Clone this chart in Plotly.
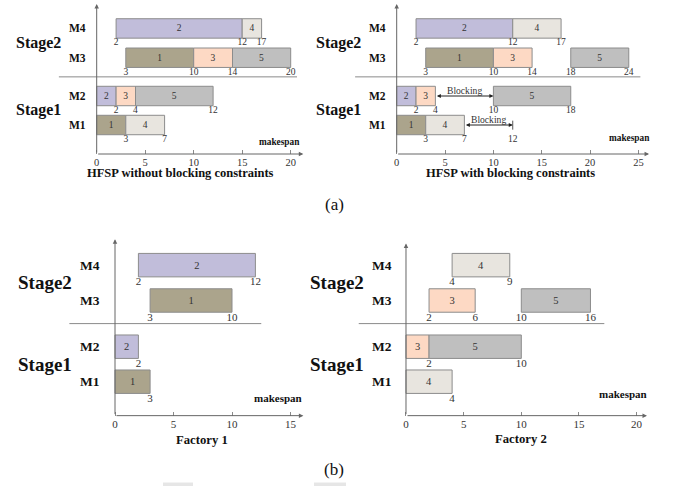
import plotly.graph_objects as go

W, H = 673, 486
FONT = "Liberation Serif, Times New Roman, Times, serif"

# ---------------- data ----------------
job_colors = {1: "#aba48c", 2: "#c1bdda", 3: "#fdd9c4", 4: "#e8e5df", 5: "#bfbfbf"}
row_pos = {"M1": 0.0, "M2": 1.0, "M3": 2.32, "M4": 3.33}
stage_names = ["Stage2", "Stage1"]
machine_names = ["M4", "M3", "M2", "M1"]

# Panel 1: HFSP without blocking constraints
p1_machine = ["M4", "M4", "M3", "M3", "M3", "M2", "M2", "M2", "M1", "M1"]
p1_job = [2, 4, 1, 3, 5, 2, 3, 5, 1, 4]
p1_start = [2, 15, 3, 10, 14, 0, 2, 4, 0, 3]
p1_end = [15, 17, 10, 14, 20, 2, 4, 12, 3, 7]
p1_lab_machine = ["M4", "M4", "M4", "M3", "M3", "M3", "M3", "M2", "M2", "M2", "M1", "M1"]
p1_lab_x = [2, 15, 17, 3, 10, 14, 20, 2, 4, 12, 3, 7]
p1_lab_text = ["2", "12", "17", "3", "10", "14", "20", "2", "4", "12", "3", "7"]
p1_ticks = [0, 5, 10, 15, 20]
p1_title = "HFSP without blocking constraints"

# Panel 2: HFSP with blocking constraints
p2_machine = ["M4", "M4", "M3", "M3", "M3", "M2", "M2", "M2", "M1", "M1"]
p2_job = [2, 4, 1, 3, 5, 2, 3, 5, 1, 4]
p2_start = [2, 12, 3, 10, 18, 0, 2, 10, 0, 3]
p2_end = [12, 17, 10, 14, 24, 2, 4, 18, 3, 7]
p2_lab_machine = ["M4", "M4", "M4", "M3", "M3", "M3", "M3", "M3", "M2", "M2", "M2", "M2", "M1", "M1", "M1"]
p2_lab_x = [2, 12, 17, 3, 10, 14, 18, 24, 2, 4, 10, 18, 3, 7, 12]
p2_lab_text = ["2", "12", "17", "3", "10", "14", "18", "24", "2", "4", "10", "18", "3", "7", "12"]
p2_block_machine = ["M2", "M1"]
p2_block_from = [4, 7]
p2_block_to = [10, 12]
p2_ticks = [0, 5, 10, 15, 20, 25]
p2_title = "HFSP with blocking constraints"

# Panel 3: Factory 1
p3_machine = ["M4", "M3", "M2", "M1"]
p3_job = [2, 1, 2, 1]
p3_start = [2, 3, 0, 0]
p3_end = [12, 10, 2, 3]
p3_lab_machine = ["M4", "M4", "M3", "M3", "M2", "M1"]
p3_lab_x = [2, 12, 3, 10, 2, 3]
p3_lab_text = ["2", "12", "3", "10", "2", "3"]
p3_ticks = [0, 5, 10, 15]
p3_title = "Factory 1"

# Panel 4: Factory 2
p4_machine = ["M4", "M3", "M3", "M2", "M2", "M1"]
p4_job = [4, 3, 5, 3, 5, 4]
p4_start = [4, 2, 10, 0, 2, 0]
p4_end = [9, 6, 16, 2, 10, 4]
p4_lab_machine = ["M4", "M4", "M3", "M3", "M3", "M3", "M2", "M2", "M1"]
p4_lab_x = [4, 9, 2, 6, 10, 16, 2, 10, 4]
p4_lab_text = ["4", "9", "2", "6", "10", "16", "2", "10", "4"]
p4_ticks = [0, 5, 10, 15, 20]
p4_title = "Factory 2"

# ---------------- layout constants ----------------
def pxx(x):
    return x / W

def pxy(y):
    return 1 - y / H

panels = [
    dict(machine=p1_machine, job=p1_job, start=p1_start, end=p1_end,
         lm=p1_lab_machine, lx=p1_lab_x, lt=p1_lab_text, ticks=p1_ticks, title=p1_title,
         x0=96.7, u=9.7, xr=[-9.9, 22.5], m1=125.0, uy=29.0, yb=-1.0,
         arrow_x=21.3, arrow_y=4.17, sep=[-3.9, 20.65], mk=(18.8, -0.6),
         title_px=(180, 173), fs=dict(stage=16, m=11.5, lab=9.5, inside=9.5, tick=10.5, title=12.5, mk=9.3)),
    dict(machine=p2_machine, job=p2_job, start=p2_start, end=p2_end,
         lm=p2_lab_machine, lx=p2_lab_x, lt=p2_lab_text, ticks=p2_ticks, title=p2_title,
         x0=396.7, u=9.67, xr=[-8.0, 27.5], m1=125.0, uy=29.0, yb=-1.0,
         arrow_x=26.1, arrow_y=4.17, sep=[-4.3, 25.2], mk=(24.1, -0.45),
         title_px=(510, 173), fs=dict(stage=16, m=11.5, lab=9.5, inside=9.5, tick=10.5, title=12.5, mk=9.3)),
    dict(machine=p3_machine, job=p3_job, start=p3_start, end=p3_end,
         lm=p3_lab_machine, lx=p3_lab_x, lt=p3_lab_text, ticks=p3_ticks, title=p3_title,
         x0=115.0, u=11.7, xr=[-9.5, 16.5], m1=381.7, uy=35.0, yb=-0.97,
         arrow_x=16.1, arrow_y=4.07, sep=[-3.9, 12.5], mk=(13.95, -0.47),
         title_px=(201.7, 440), fs=dict(stage=19, m=13.5, lab=11, inside=10.5, tick=11, title=12.7, mk=11)),
    dict(machine=p4_machine, job=p4_job, start=p4_start, end=p4_end,
         lm=p4_lab_machine, lx=p4_lab_x, lt=p4_lab_text, ticks=p4_ticks, title=p4_title,
         x0=406.0, u=11.53, xr=[-8.4, 22.0], m1=381.7, uy=35.0, yb=-0.97,
         arrow_x=20.9, arrow_y=3.95, sep=[-4.1, 17.2], mk=(18.8, -0.36),
         title_px=(520.8, 439), fs=dict(stage=19, m=13.5, lab=11, inside=10.5, tick=11, title=12.7, mk=11)),
]

Y_TOP = 4.2
BAR_W = 0.67
SEP_Y = 1.66
AX_COLOR = "#8a8a8a"
EDGE = "#8c8c8c"

fig = go.Figure()
annotations = []
shapes = []
layout_axes = {}

for i, p in enumerate(panels, start=1):
    xa = "x" if i == 1 else f"x{i}"
    ya = "y" if i == 1 else f"y{i}"
    xkey = "xaxis" if i == 1 else f"xaxis{i}"
    ykey = "yaxis" if i == 1 else f"yaxis{i}"
    fs = p["fs"]

    # bars
    fig.add_trace(go.Bar(
        orientation="h",
        y=[row_pos[m] for m in p["machine"]],
        x=[e - s for s, e in zip(p["start"], p["end"])],
        base=p["start"],
        width=BAR_W,
        marker=dict(color=[job_colors[j] for j in p["job"]], line=dict(color=EDGE, width=1)),
        text=[str(j) for j in p["job"]],
        textposition="inside",
        insidetextanchor="middle",
        textangle=0,
        insidetextfont=dict(family=FONT, size=fs["inside"], color="#333333"),
        hoverinfo="skip",
        showlegend=False,
        xaxis=xa, yaxis=ya,
    ))
    # boundary labels
    fig.add_trace(go.Scatter(
        x=p["lx"], y=[row_pos[m] - 0.5 for m in p["lm"]],
        text=p["lt"], mode="text",
        textfont=dict(family=FONT, size=fs["lab"], color="#333333"),
        textposition="middle center",
        cliponaxis=False, hoverinfo="skip", showlegend=False,
        xaxis=xa, yaxis=ya,
    ))

    # axes domains
    xd = [pxx(p["x0"] + p["xr"][0] * p["u"]), pxx(p["x0"] + p["xr"][1] * p["u"])]
    ypx_bottom = p["m1"] - p["yb"] * p["uy"]
    ypx_top = p["m1"] - Y_TOP * p["uy"]
    yd = [pxy(ypx_bottom), pxy(ypx_top)]
    layout_axes[xkey] = dict(
        domain=xd, range=p["xr"], anchor=ya,
        tickvals=p["ticks"], ticktext=[str(t) for t in p["ticks"]],
        ticks="inside", ticklen=4, tickcolor=AX_COLOR, tickwidth=1,
        showline=False, showgrid=False, zeroline=False,
        tickfont=dict(family=FONT, size=fs["tick"], color="#333333"),
    )
    layout_axes[ykey] = dict(domain=yd, range=[p["yb"], Y_TOP], anchor=xa, visible=False)

    # axis arrows
    annotations.append(dict(x=p["arrow_x"], y=p["yb"], ax=0, ay=p["yb"], xref=xa, yref=ya,
                            axref=xa, ayref=ya, text="", showarrow=True, arrowhead=2,
                            arrowsize=0.9, arrowwidth=1, arrowcolor="#666666", standoff=0))
    annotations.append(dict(x=0, y=p["arrow_y"], ax=0, ay=p["yb"], xref=xa, yref=ya,
                            axref=xa, ayref=ya, text="", showarrow=True, arrowhead=2,
                            arrowsize=0.9, arrowwidth=1, arrowcolor="#666666", standoff=0))
    # stage separator
    shapes.append(dict(type="line", xref=xa, yref=ya, x0=p["sep"][0], x1=p["sep"][1],
                       y0=SEP_Y, y1=SEP_Y, line=dict(color=AX_COLOR, width=1)))
    # stage / machine labels
    mx = -2.0 if i <= 2 else -2.1
    for m in machine_names:
        annotations.append(dict(x=mx, y=row_pos[m], xref=xa, yref=ya, text=f"<b>{m}</b>",
                                xanchor="center", yanchor="middle",
                                showarrow=False, font=dict(family=FONT, size=fs["m"], color="#111111")))
    stage_y = [(row_pos["M4"] + row_pos["M3"]) / 2, (row_pos["M2"] + row_pos["M1"]) / 2]
    for s, sy in zip(stage_names, stage_y):
        annotations.append(dict(x=-6.0, y=sy, xref=xa, yref=ya, text=f"<b>{s}</b>",
                                xanchor="center", yanchor="middle",
                                showarrow=False, font=dict(family=FONT, size=fs["stage"], color="#111111")))
    # makespan
    annotations.append(dict(x=p["mk"][0], y=p["mk"][1], xref=xa, yref=ya, text="<b>makespan</b>",
                            xanchor="center", yanchor="middle",
                            showarrow=False, font=dict(family=FONT, size=fs["mk"], color="#111111")))
    # title
    annotations.append(dict(x=pxx(p["title_px"][0]), y=pxy(p["title_px"][1]), xref="paper", yref="paper",
                            xanchor="center", yanchor="middle",
                            text=f"<b>{p['title']}</b>", showarrow=False,
                            font=dict(family=FONT, size=fs["title"], color="#111111")))

# blocking arrows in panel 2
for m, a, b in zip(p2_block_machine, p2_block_from, p2_block_to):
    yv = row_pos[m]
    annotations.append(dict(x=b, y=yv, ax=a, ay=yv, xref="x2", yref="y2", axref="x2", ayref="y2",
                            text="", showarrow=True, arrowhead=2, startarrowhead=2, arrowside="end+start",
                            arrowsize=0.8, startarrowsize=0.8, arrowwidth=1, arrowcolor="#222222",
                            standoff=0, startstandoff=0))
    annotations.append(dict(x=(a + b) / 2 + (0.0 if m == "M2" else -0.05), y=yv + 0.19, xref="x2", yref="y2",
                            xanchor="center", yanchor="middle",
                            text="Blocking", showarrow=False,
                            font=dict(family=FONT, size=9.6, color="#333333")))
shapes.append(dict(type="line", xref="x2", yref="y2", x0=p2_block_to[1], x1=p2_block_to[1],
                   y0=row_pos["M1"] + 0.15, y1=row_pos["M1"] - 0.38,
                   line=dict(color="#555555", width=1, dash="dash")))

# sub-figure labels
annotations.append(dict(x=pxx(334.5), y=pxy(204), xref="paper", yref="paper", text="(a)",
                        xanchor="center", yanchor="middle",
                        showarrow=False, font=dict(family=FONT, size=17, color="#111111")))
annotations.append(dict(x=pxx(333.5), y=pxy(469), xref="paper", yref="paper", text="(b)",
                        xanchor="center", yanchor="middle",
                        showarrow=False, font=dict(family=FONT, size=17, color="#111111")))

# faint marks at the bottom edge
for x0, x1 in [(163, 193), (314, 346)]:
    shapes.append(dict(type="rect", xref="paper", yref="paper", x0=pxx(x0), x1=pxx(x1),
                       y0=0, y1=pxy(482.5), line=dict(width=0), fillcolor="#e6e6e6"))

fig.update_layout(
    width=W, height=H, margin=dict(l=0, r=0, t=0, b=0),
    paper_bgcolor="white", plot_bgcolor="rgba(0,0,0,0)",
    barmode="overlay", showlegend=False,
    annotations=annotations, shapes=shapes,
    font=dict(family=FONT),
    **layout_axes,
)

fig.write_html("out.html", config={"displayModeBar": False},
               post_script="document.body.style.margin='0';document.body.style.padding='0';document.body.style.overflow='hidden';")
